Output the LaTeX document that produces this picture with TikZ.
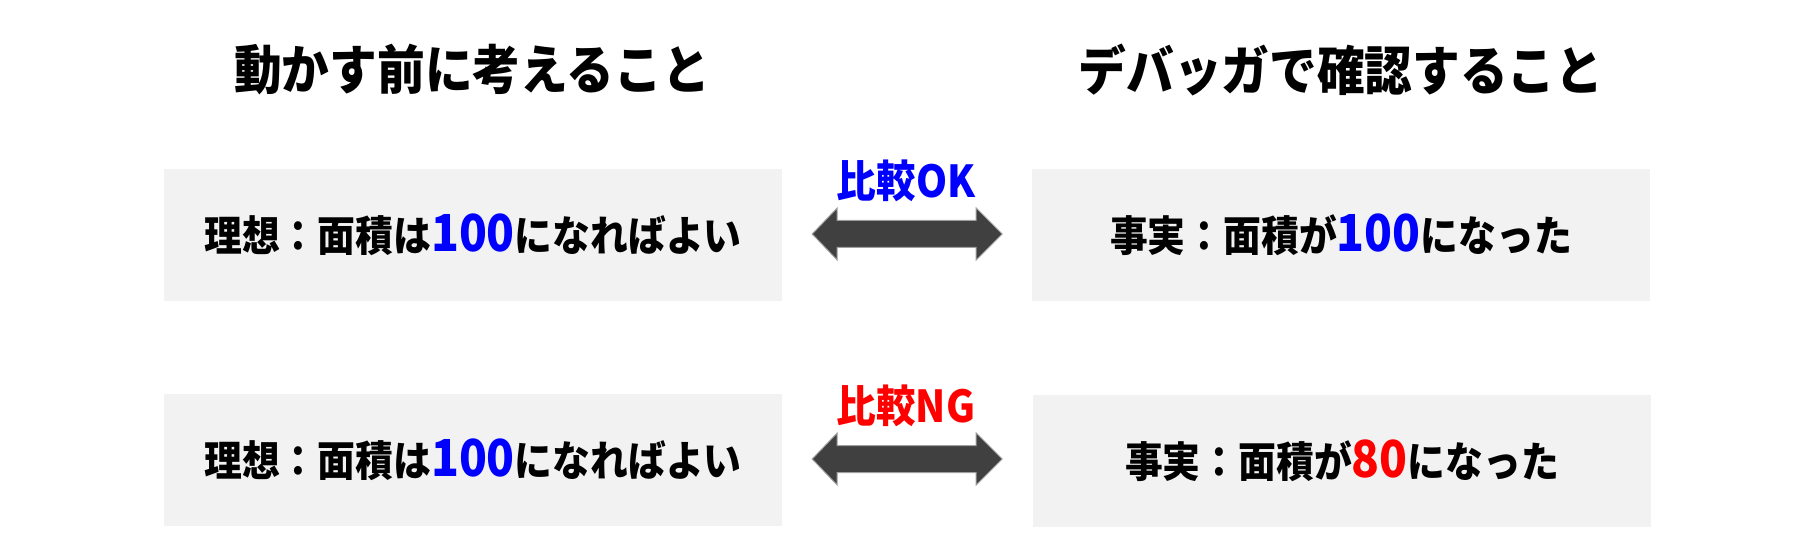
\documentclass[tikz,border=0pt]{standalone}
\usepackage{fontspec}
\IfFontExistsTF{Noto Sans CJK JP Black}{%
  \newfontfamily\jp{Noto Sans CJK JP}[FakeStretch=0.9, BoldFont={Noto Sans CJK JP Black}]}{%
  \newfontfamily\jp{Noto Sans CJK JP}[FakeStretch=0.9]}
\usetikzlibrary{calc}
\definecolor{boxgray}{HTML}{F2F2F2}
\definecolor{arrowgray}{HTML}{404040}
\definecolor{okblue}{HTML}{0000FF}
\definecolor{ngred}{HTML}{FF0000}
\newcommand{\numtxt}[2]{{\fontsize{51}{50}\selectfont\color{#1}#2}}
\tikzset{
  titletext/.style={font=\jp\bfseries\fontsize{53}{60}\selectfont, inner sep=0pt},
  boxnode/.style={fill=boxgray, minimum width=618pt, minimum height=132pt, inner sep=0pt,
    font=\jp\bfseries\fontsize{42}{50}\selectfont},
  cmplabel/.style={font=\jp\bfseries\fontsize{44}{50}\selectfont, inner sep=0pt},
  bigarrow/.style={fill=arrowgray, draw=gray!75, line width=1pt, line join=miter}
}
\begin{document}
\begin{tikzpicture}[x=1pt,y=-1pt]
\useasboundingbox (0,0) rectangle (1814,553);
\node[titletext] (T1) at (472,70) {動かす前に考えること};
\node[titletext] (T2) at (1341,70) {デバッガで確認すること};
\node[boxnode] (L1) at (473,235) {理想：面積は\numtxt{okblue}{100}になればよい};
\node[boxnode] (R1) at (1341,235) {事実：面積が\numtxt{okblue}{100}になった};
\node[boxnode] (L2) at (473,460) {理想：面積は\numtxt{okblue}{100}になればよい};
\node[boxnode] (R2) at (1342,461) {事実：面積が\numtxt{ngred}{80}になった};
\node[cmplabel, text=okblue] (K1) at (906,181) {比較OK};
\node[cmplabel, text=ngred] (K2) at (906,406) {比較NG};
\coordinate (A1) at ($(L1.east)+(30,-1)$);
\coordinate (A2) at ($(L2.east)+(30,-1)$);
\foreach \a in {A1,A2}{
  \draw[bigarrow] (\a) -- ++(25,-26) -- ++(0,12.5) -- ++(139,0) -- ++(0,-12.5)
    -- ++(26,26) -- ++(-26,26) -- ++(0,-12.5) -- ++(-139,0) -- ++(0,12.5) -- cycle;
}
\end{tikzpicture}
\end{document}
